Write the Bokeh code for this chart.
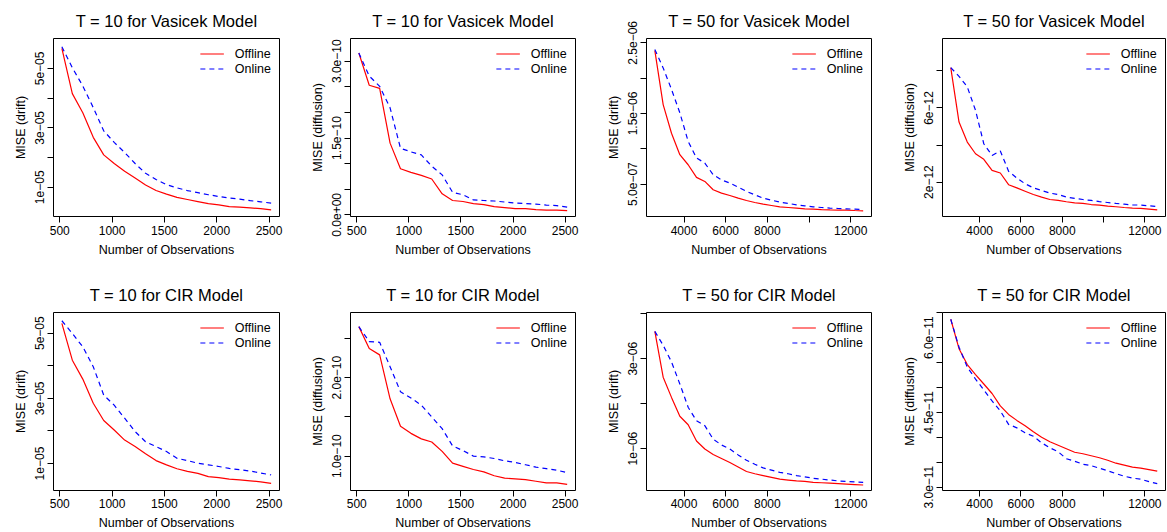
from bokeh.plotting import figure
from bokeh.layouts import column, row
from bokeh.models import FixedTicker, Range1d, Legend, LegendItem
from bokeh.embed import file_html
from bokeh.resources import INLINE
import numpy as np

# ---------------- data ----------------
N_T10 = [520, 620, 720, 820, 920, 1020, 1120, 1220, 1320, 1420, 1520, 1620, 1720,
         1820, 1920, 2020, 2120, 2220, 2320, 2420, 2520]
N_T50 = [2600, 3000, 3400, 3800, 4200, 4600, 5000, 5400, 5800, 6200, 6600, 7000, 7400,
         7800, 8200, 8600, 9000, 9400, 9800, 10200, 10600, 11000, 11400, 11800, 12200, 12600]

# Vasicek, T=10, drift (x 1e-5)
vas10_drift_off = [5.67, 4.15, 3.51, 2.68, 2.09, 1.80, 1.54, 1.31, 1.08, 0.89, 0.77, 0.66,
                   0.59, 0.52, 0.45, 0.41, 0.35, 0.33, 0.31, 0.28, 0.24]
vas10_drift_on = [5.73, 5.02, 4.41, 3.68, 2.90, 2.51, 2.17, 1.80, 1.47, 1.26, 1.09, 0.98,
                  0.89, 0.82, 0.75, 0.69, 0.64, 0.60, 0.55, 0.51, 0.47]
# Vasicek, T=10, diffusion (x 1e-10)
vas10_diff_off = [3.16, 2.53, 2.47, 1.40, 0.90, 0.83, 0.77, 0.70, 0.41, 0.28, 0.26, 0.22,
                  0.20, 0.16, 0.14, 0.12, 0.12, 0.10, 0.09, 0.09, 0.08]
vas10_diff_on = [3.16, 2.71, 2.51, 2.09, 1.30, 1.23, 1.17, 0.95, 0.78, 0.44, 0.39, 0.29,
                 0.28, 0.27, 0.25, 0.23, 0.22, 0.21, 0.19, 0.18, 0.15]
# Vasicek, T=50, drift (x 1e-7)
vas50_drift_off = [23.9, 16.25, 12.2, 9.16, 7.74, 5.95, 5.38, 4.2, 3.72, 3.39, 3.01, 2.68,
                   2.40, 2.16, 1.97, 1.78, 1.69, 1.60, 1.50, 1.45, 1.40, 1.36, 1.33, 1.31,
                   1.26, 1.22]
vas50_drift_on = [24.05, 21.45, 18.4, 15.1, 11.05, 8.7, 7.98, 6.33, 5.6, 5.14, 4.57, 3.96,
                  3.49, 3.01, 2.73, 2.45, 2.26, 2.07, 1.93, 1.78, 1.69, 1.60, 1.55, 1.50,
                  1.45, 1.40]
# Vasicek, T=50, diffusion (x 1e-12)
vas50_diff_off = [8.18, 5.24, 4.16, 3.53, 3.23, 2.63, 2.49, 1.86, 1.69, 1.51, 1.33, 1.19,
                  1.06, 1.01, 0.94, 0.88, 0.85, 0.79, 0.76, 0.70, 0.67, 0.63, 0.60, 0.58,
                  0.54, 0.50]
vas50_diff_on = [8.18, 7.71, 7.14, 5.87, 4.07, 3.44, 3.68, 2.59, 2.22, 1.91, 1.69, 1.55,
                 1.41, 1.33, 1.19, 1.12, 1.06, 1.01, 0.95, 0.90, 0.85, 0.81, 0.77, 0.76,
                 0.72, 0.68]
# CIR, T=10, drift (x 1e-5)
cir10_drift_off = [5.30, 4.17, 3.59, 2.85, 2.32, 2.03, 1.72, 1.52, 1.30, 1.09, 0.96, 0.84,
                   0.76, 0.70, 0.60, 0.57, 0.52, 0.50, 0.47, 0.44, 0.39]
cir10_drift_on = [5.38, 4.99, 4.58, 3.97, 3.10, 2.79, 2.39, 1.98, 1.67, 1.52, 1.37, 1.16,
                  1.09, 1.01, 0.96, 0.91, 0.85, 0.81, 0.77, 0.71, 0.65]
# CIR, T=10, diffusion (x 1e-10)
cir10_diff_off = [2.65, 2.37, 2.29, 1.73, 1.38, 1.29, 1.22, 1.18, 1.06, 0.91, 0.87, 0.83,
                  0.80, 0.75, 0.72, 0.71, 0.70, 0.68, 0.66, 0.66, 0.64]
cir10_diff_on = [2.65, 2.46, 2.45, 2.14, 1.82, 1.74, 1.65, 1.50, 1.35, 1.13, 1.07, 1.00,
                 0.99, 0.97, 0.94, 0.92, 0.89, 0.86, 0.84, 0.82, 0.79]
# CIR, T=50, drift (x 1e-6)
cir50_drift_off = [3.61, 2.59, 2.14, 1.72, 1.53, 1.17, 0.99, 0.87, 0.78, 0.69, 0.59, 0.49,
                   0.44, 0.40, 0.36, 0.32, 0.30, 0.28, 0.27, 0.25, 0.24, 0.23, 0.22, 0.21,
                   0.20, 0.19]
cir50_drift_on = [3.61, 3.30, 2.93, 2.44, 1.92, 1.62, 1.51, 1.21, 1.08, 0.99, 0.86, 0.74,
                  0.65, 0.57, 0.52, 0.47, 0.44, 0.40, 0.37, 0.34, 0.32, 0.30, 0.28, 0.27,
                  0.26, 0.25]
# CIR, T=50, diffusion (x 1e-11)
cir50_diff_off = [6.37, 5.78, 5.46, 5.26, 5.07, 4.88, 4.63, 4.46, 4.34, 4.23, 4.11, 4.00,
                  3.91, 3.84, 3.77, 3.70, 3.67, 3.63, 3.59, 3.54, 3.48, 3.44, 3.40, 3.38,
                  3.35, 3.32]
cir50_diff_on = [6.37, 5.81, 5.41, 5.17, 4.95, 4.73, 4.53, 4.26, 4.19, 4.09, 4.02, 3.89,
                 3.79, 3.71, 3.57, 3.52, 3.46, 3.43, 3.38, 3.33, 3.27, 3.22, 3.18, 3.16,
                 3.11, 3.07]

# tick values / labels
x_ticks_T10 = [500, 1000, 1500, 2000, 2500]
x_labels_T10 = ["500", "1000", "1500", "2000", "2500"]
x_ticks_T50 = [4000, 6000, 8000, 10000, 12000]
x_labels_T50 = ["4000", "6000", "8000", "", "12000"]

XLABEL = "Number of Observations"
MINUS = "\u2212"

FONT = "Liberation Sans"


def make_panel(title, ylabel, x, off, on, unit, xr, yr, yticks, ylabels, xticks, xlabels,
               width, height, left, right, top, bottom, xstand, xlabstand, lh):
    p = figure(width=width, height=height, output_backend="svg", toolbar_location=None,
               x_range=Range1d(*xr), y_range=Range1d(yr[0] * unit, yr[1] * unit),
               min_border_left=left, min_border_right=right,
               min_border_top=top, min_border_bottom=bottom, title=title)
    p.background_fill_color = "white"
    p.border_fill_color = "white"
    p.outline_line_color = "black"
    p.outline_line_width = 1
    p.xgrid.visible = False
    p.ygrid.visible = False

    p.title.text_font = FONT
    p.title.text_font_size = "16.5px"
    p.title.text_font_style = "normal"
    p.title.text_color = "black"
    p.title.align = "center"
    p.title.standoff = 18

    xs = np.array(x, dtype=float)
    r1 = p.line(xs, np.array(off) * unit, line_color="#FF0000", line_width=1.2)
    r2 = p.line(xs, np.array(on) * unit, line_color="#0000FF", line_width=1.2,
                line_dash="5 4")

    for ax in (p.xaxis[0], p.yaxis[0]):
        ax.axis_line_color = None
        ax.major_tick_line_color = "black"
        ax.major_tick_out = 6
        ax.major_tick_in = 0
        ax.minor_tick_line_color = None
        ax.major_label_text_font = FONT
        ax.major_label_text_font_size = "12px"
        ax.major_label_text_color = "black"
        ax.axis_label_text_font = FONT
        ax.axis_label_text_font_size = "12.5px"
        ax.axis_label_text_font_style = "normal"
        ax.axis_label_text_color = "black"
        ax.major_label_standoff = 3
        ax.axis_label_standoff = 5

    xa = p.xaxis[0]
    xa.major_label_standoff = xstand
    xa.axis_label_standoff = xlabstand
    xa.major_label_text_line_height = lh
    xa.axis_label_text_line_height = lh
    xa.ticker = FixedTicker(ticks=xticks)
    xa.major_label_overrides = {t: l for t, l in zip(xticks, xlabels)}
    xa.axis_label = XLABEL

    p.yaxis[0].ticker = FixedTicker(ticks=yticks)
    p.yaxis[0].major_label_overrides = {t: l for t, l in zip(yticks, ylabels)}
    p.yaxis[0].major_label_orientation = "vertical"
    p.yaxis[0].axis_label = ylabel

    legend = Legend(items=[LegendItem(label="Offline", renderers=[r1]),
                           LegendItem(label="Online", renderers=[r2])],
                    location="top_right")
    legend.border_line_color = None
    legend.background_fill_alpha = 0
    legend.label_text_font = FONT
    legend.label_text_font_size = "12.5px"
    legend.label_text_color = "black"
    legend.glyph_width = 24
    legend.glyph_height = 15
    legend.label_height = 15
    legend.label_standoff = 11
    legend.spacing = 0
    legend.padding = 0
    legend.margin = 8
    p.add_layout(legend)
    return p


widths = [296, 296, 296, 279]
lefts = [53, 54, 54, 54]
rights = [17, 17, 17, 2]

top_specs = [
    ("T = 10 for Vasicek Model", "MISE (drift)", N_T10, vas10_drift_off, vas10_drift_on, 1e-5,
     (440, 2600), (0.017, 6.006),
     [1e-05, 2e-05, 3e-05, 4e-05, 5e-05],
     ["1e" + MINUS + "05", "", "3e" + MINUS + "05", "", "5e" + MINUS + "05"],
     x_ticks_T10, x_labels_T10),
    ("T = 10 for Vasicek Model", "MISE (diffusion)", N_T10, vas10_diff_off, vas10_diff_on, 1e-10,
     (440, 2600), (-0.033, 3.444),
     [0.0, 5e-11, 1e-10, 1.5e-10, 2e-10, 2.5e-10, 3e-10],
     ["0.0e+00", "", "", "1.5e" + MINUS + "10", "", "", "3.0e" + MINUS + "10"],
     x_ticks_T10, x_labels_T10),
    ("T = 50 for Vasicek Model", "MISE (drift)", N_T50, vas50_drift_off, vas50_drift_on, 1e-7,
     (2200, 13000), (0.414, 25.61),
     [5e-07, 1e-06, 1.5e-06, 2e-06, 2.5e-06],
     ["5.0e" + MINUS + "07", "", "1.5e" + MINUS + "06", "", "2.5e" + MINUS + "06"],
     x_ticks_T50, x_labels_T50),
    ("T = 50 for Vasicek Model", "MISE (diffusion)", N_T50, vas50_diff_off, vas50_diff_on, 1e-12,
     (2200, 13000), (0.144, 9.75),
     [2e-12, 4e-12, 6e-12, 8e-12],
     ["2e" + MINUS + "12", "", "6e" + MINUS + "12", ""],
     x_ticks_T50, x_labels_T50),
]

bottom_specs = [
    ("T = 10 for CIR Model", "MISE (drift)", N_T10, cir10_drift_off, cir10_drift_on, 1e-5,
     (440, 2600), (0.173, 5.633),
     [1e-05, 2e-05, 3e-05, 4e-05, 5e-05],
     ["1e" + MINUS + "05", "", "3e" + MINUS + "05", "", "5e" + MINUS + "05"],
     x_ticks_T10, x_labels_T10),
    ("T = 10 for CIR Model", "MISE (diffusion)", N_T10, cir10_diff_off, cir10_diff_on, 1e-10,
     (440, 2600), (0.562, 2.83),
     [1e-10, 1.5e-10, 2e-10, 2.5e-10],
     ["1.0e" + MINUS + "10", "", "2.0e" + MINUS + "10", ""],
     x_ticks_T10, x_labels_T10),
    ("T = 50 for CIR Model", "MISE (drift)", N_T50, cir50_drift_off, cir50_drift_on, 1e-6,
     (2200, 13000), (0.067, 4.03),
     [1e-06, 2e-06, 3e-06, 4e-06],
     ["1e" + MINUS + "06", "", "3e" + MINUS + "06", ""],
     x_ticks_T50, x_labels_T50),
    ("T = 50 for CIR Model", "MISE (diffusion)", N_T50, cir50_diff_off, cir50_diff_on, 1e-11,
     (2200, 13000), (2.932, 6.506),
     [3e-11, 3.5e-11, 4e-11, 4.5e-11, 5e-11, 5.5e-11, 6e-11, 6.5e-11],
     ["3.0e" + MINUS + "11", "", "", "4.5e" + MINUS + "11", "", "", "6.0e" + MINUS + "11", ""],
     x_ticks_T50, x_labels_T50),
]

top_row = [make_panel(*spec, width=widths[i], height=274, left=lefts[i], right=rights[i],
                      top=37, bottom=58, xstand=3, xlabstand=5, lh=1.2)
           for i, spec in enumerate(top_specs)]
bottom_row = [make_panel(*spec, width=widths[i], height=258, left=lefts[i], right=rights[i],
                         top=38, bottom=42, xstand=2, xlabstand=5, lh=1.0)
              for i, spec in enumerate(bottom_specs)]

layout = column(row(*top_row), row(*bottom_row))

with open("out.html", "w") as f:
    f.write(file_html(layout, INLINE))
